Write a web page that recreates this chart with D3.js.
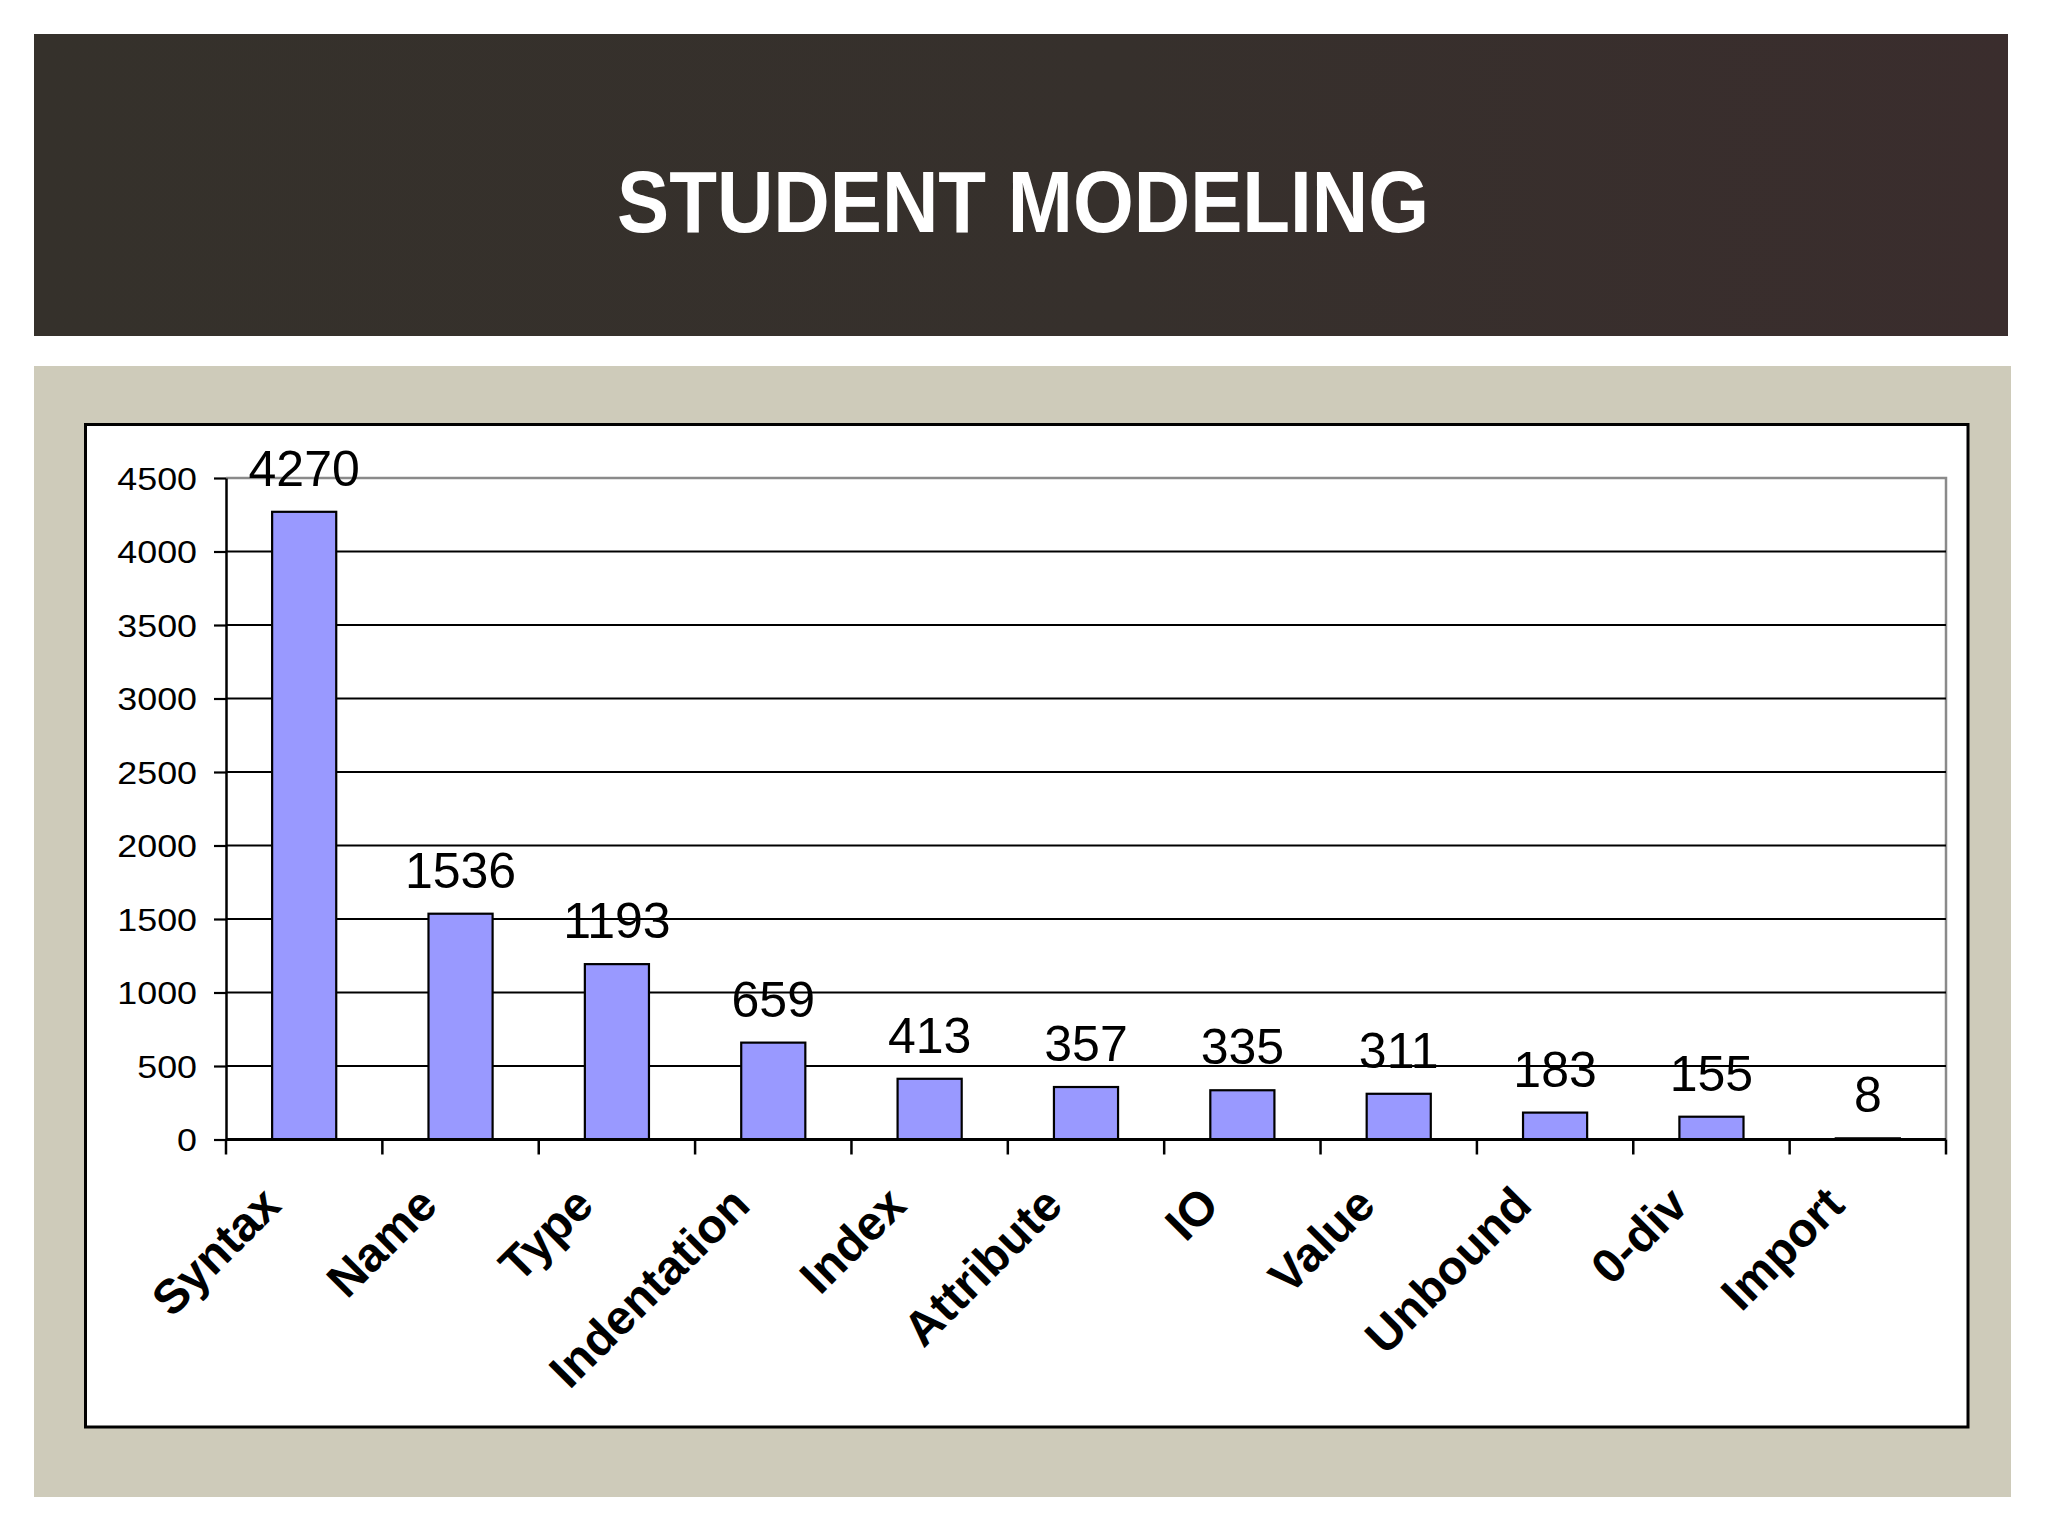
<!DOCTYPE html>
<html>
<head>
<meta charset="utf-8">
<script src="https://cdn.jsdelivr.net/npm/d3@7/dist/d3.min.js"></script>
<style>
  html, body { margin: 0; padding: 0; background: #ffffff; }
  svg { display: block; }
</style>
</head>
<body>
<script>
// ---- data ----
const title = "STUDENT MODELING";
const categories = ["Syntax", "Name", "Type", "Indentation", "Index", "Attribute", "IO", "Value", "Unbound", "0-div", "Import"];
const values = [4270, 1536, 1193, 659, 413, 357, 335, 311, 183, 155, 8];
const yTicks = [0, 500, 1000, 1500, 2000, 2500, 3000, 3500, 4000, 4500];
const yMax = 4500;

// ---- layout ----
const W = 2048, H = 1536;
const plot = { left: 226, right: 1946, top: 478, bottom: 1139.5 };
const fontArial = "'Liberation Sans', Arial, Helvetica, sans-serif";

const svg = d3.select("body").append("svg")
  .attr("width", W).attr("height", H)
  .attr("viewBox", `0 0 ${W} ${H}`);

const defs = svg.append("defs");
const grad = defs.append("linearGradient").attr("id", "hdr")
  .attr("x1", "0").attr("y1", "0").attr("x2", "1").attr("y2", "0");
grad.append("stop").attr("offset", "0").attr("stop-color", "#35312b");
grad.append("stop").attr("offset", "0.55").attr("stop-color", "#36302c");
grad.append("stop").attr("offset", "1").attr("stop-color", "#3a2d2d");

svg.append("rect").attr("x", 0).attr("y", 0).attr("width", W).attr("height", H).attr("fill", "#ffffff");

// header band
svg.append("rect").attr("x", 34).attr("y", 34).attr("width", 1974).attr("height", 302).attr("fill", "url(#hdr)");
svg.append("text")
  .attr("x", 1023).attr("y", 231.5)
  .attr("text-anchor", "middle")
  .attr("font-family", fontArial)
  .attr("font-weight", "bold")
  .attr("font-size", 87)
  .attr("textLength", 812)
  .attr("lengthAdjust", "spacingAndGlyphs")
  .attr("fill", "#ffffff")
  .text(title);

// tan panel
svg.append("rect").attr("x", 34).attr("y", 366).attr("width", 1977).attr("height", 1131).attr("fill", "#cecbba");

// chart frame
svg.append("rect").attr("x", 85.5).attr("y", 424.5).attr("width", 1882.5).attr("height", 1002.5)
  .attr("fill", "#ffffff").attr("stroke", "#000000").attr("stroke-width", 3);

// ---- scales ----
const x = d3.scaleBand().domain(categories).range([plot.left, plot.right])
  .paddingInner(0.59).paddingOuter(0.295);
const y = d3.scaleLinear().domain([0, yMax]).range([plot.bottom, plot.top]);

// plot area border (gray top + right)
svg.append("path")
  .attr("d", `M${plot.left},${y(yMax)}H${plot.right}V${plot.bottom}`)
  .attr("fill", "none").attr("stroke", "#8a8a8a").attr("stroke-width", 2.5);

// gridlines
svg.append("g").selectAll("line")
  .data(yTicks.filter(v => v > 0 && v < yMax))
  .join("line")
  .attr("x1", plot.left).attr("x2", plot.right)
  .attr("y1", d => y(d)).attr("y2", d => y(d))
  .attr("stroke", "#000000").attr("stroke-width", 2.2);

// bars
svg.append("g").selectAll("rect")
  .data(values)
  .join("rect")
  .attr("x", (d, i) => x(categories[i]))
  .attr("width", x.bandwidth())
  .attr("y", d => y(d))
  .attr("height", d => y(0) - y(d))
  .attr("fill", "#9999ff")
  .attr("stroke", "#000000")
  .attr("stroke-width", 2.2);

// y axis
const stretch = 1.12;
const yAxis = svg.append("g")
  .attr("transform", `translate(${plot.left},0)`)
  .call(d3.axisLeft(y).tickValues(yTicks).tickSize(12).tickSizeOuter(0).tickPadding(29 / stretch - 12).tickFormat(d3.format("d")));
yAxis.select(".domain").attr("stroke", "#000000").attr("stroke-width", 2.5);
yAxis.selectAll(".tick line").attr("stroke", "#000000").attr("stroke-width", 2.2);
yAxis.selectAll(".tick text")
  .attr("font-family", fontArial).attr("font-size", 32).attr("fill", "#000000")
  .attr("dy", "0.35em")
  .attr("transform", `scale(${stretch},1)`);

// x axis line + boundary ticks
const step = x.step();
const boundaries = categories.map((c, i) => plot.left + i * step).concat([plot.right]);
svg.append("line")
  .attr("x1", plot.left).attr("x2", plot.right)
  .attr("y1", y(0)).attr("y2", y(0))
  .attr("stroke", "#000000").attr("stroke-width", 3);
svg.append("g").selectAll("line")
  .data(boundaries)
  .join("line")
  .attr("x1", d => d).attr("x2", d => d)
  .attr("y1", y(0)).attr("y2", y(0) + 15)
  .attr("stroke", "#000000").attr("stroke-width", 2.5);

// x labels, rotated
svg.append("g").selectAll("text")
  .data(categories)
  .join("text")
  .attr("transform", d => `translate(${x(d) + x.bandwidth() / 2 - 21},${y(0) + 68}) rotate(-45)`)
  .attr("text-anchor", "end")
  .attr("font-family", fontArial)
  .attr("font-weight", "bold")
  .attr("font-size", 48)
  .attr("fill", "#000000")
  .text(d => d);

// value labels
svg.append("g").selectAll("text")
  .data(values)
  .join("text")
  .attr("x", (d, i) => x(categories[i]) + x.bandwidth() / 2)
  .attr("y", d => y(d) - 26)
  .attr("text-anchor", "middle")
  .attr("font-family", fontArial)
  .attr("font-size", 50)
  .attr("fill", "#000000")
  .text(d => d);
</script>
</body>
</html>
